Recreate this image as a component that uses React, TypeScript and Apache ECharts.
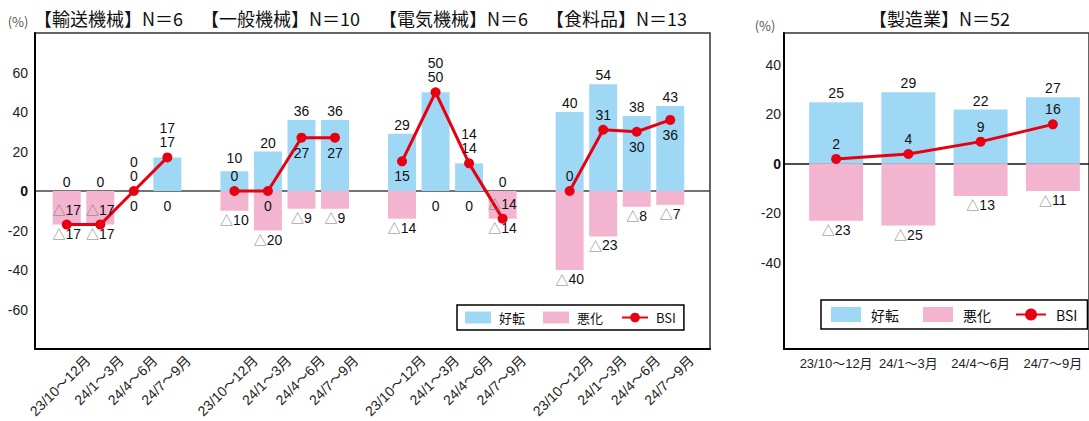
import { useEffect, useRef } from 'react';
import * as echarts from 'echarts';

// ---------------- data ----------------
const periods = ['23/10～12月', '24/1～3月', '24/4～6月', '24/7～9月'];
const industryNames = ['輸送機械', '一般機械', '電気機械', '食料品'];
const industryCounts = [6, 10, 6, 13];

const transportImprove = [0, 0, 0, 17];
const transportWorsen = [17, 17, 0, 0];
const transportBsi = [-17, -17, 0, 17];

const generalImprove = [10, 20, 36, 36];
const generalWorsen = [10, 20, 9, 9];
const generalBsi = [0, 0, 27, 27];

const electricImprove = [29, 50, 14, 0];
const electricWorsen = [14, 0, 0, 14];
const electricBsi = [15, 50, 14, -14];

const foodImprove = [40, 54, 38, 43];
const foodWorsen = [40, 23, 8, 7];
const foodBsi = [0, 31, 30, 36];

const mfgName = '製造業';
const mfgCount = 52;
const mfgImprove = [25, 29, 22, 27];
const mfgWorsen = [23, 25, 13, 11];
const mfgBsi = [2, 4, 9, 16];

const legendNames = ['好転', '悪化', 'BSI'];

// ---------------- style / layout ----------------
const bsiLabelSideLeft = [
  ['top', 'top', 'top', 'top'],
  ['top', 'bottom', 'bottom', 'bottom'],
  ['bottom', 'top', 'top', 'top'],
  ['top', 'top', 'bottom', 'bottom'],
];
const titleLeftX = [34, 201, 379, 546];
const mfgTitleX = 869;

const FONT_NUM = "'Liberation Sans Narrow', 'Liberation Sans', 'Noto Sans CJK JP', sans-serif";
const FONT_JP = "'Noto Sans CJK JP', sans-serif";
const BLUE = '#9fd8f5';
const PINK = '#f3b4d0';
const RED = '#e60012';
const CLEAR = 'rgba(0,0,0,0)';

const numLabel = { fontFamily: FONT_NUM, fontSize: 14, color: '#111' };
const rich = {
  tri: { color: '#7a7a7a', fontFamily: FONT_JP, fontSize: 13 },
  n: { ...numLabel },
};
const fmtSigned = (v: number) => (v < 0 ? `{tri|△}{n|${-v}}` : `${v}`);

function buildOption() {
  const groups = [
    { improve: transportImprove, worsen: transportWorsen, bsi: transportBsi },
    { improve: generalImprove, worsen: generalWorsen, bsi: generalBsi },
    { improve: electricImprove, worsen: electricWorsen, bsi: electricBsi },
    { improve: foodImprove, worsen: foodWorsen, bsi: foodBsi },
  ];
  const leftCats: string[] = [];
  const leftImprove: any[] = [];
  const leftWorsen: any[] = [];
  const leftBsi: any[] = [];
  groups.forEach((g, gi) => {
    if (gi > 0) {
      leftCats.push('');
      leftImprove.push('-');
      leftWorsen.push('-');
      leftBsi.push('-');
    }
    periods.forEach((p, i) => {
      leftCats.push(p);
      const side = bsiLabelSideLeft[gi][i];
      const gap = g.improve[i] - g.bsi[i];
      const lift = side === 'top' && gap >= 0 && gap <= 12 ? (gap === 0 ? 20 : 4) : 0;
      leftImprove.push(lift ? { value: g.improve[i], label: { offset: [0, -lift] } } : g.improve[i]);
      leftWorsen.push(g.worsen[i] === 0 ? { value: 0, label: { offset: [0, 6] } } : -g.worsen[i]);
      leftBsi.push({ value: g.bsi[i], label: { position: side } });
    });
  });

  const rightImprove = mfgImprove.slice();
  const rightWorsen = mfgWorsen.map((w) => -w);
  const rightBsi = mfgBsi.map((v) => ({ value: v, label: { position: 'top' } }));

  const improveLabel = {
    show: true,
    position: 'top',
    distance: 2,
    ...numLabel,
    formatter: (p: any) => `${p.value}`,
  };
  const worsenLabel = {
    show: true,
    position: 'bottom',
    distance: 2,
    ...numLabel,
    rich,
    formatter: (p: any) => {
      const w = Math.abs(p.value);
      return w ? `{tri|△}{n|${w}}` : '0';
    },
  };
  const bsiLabel = {
    show: true,
    distance: 3,
    ...numLabel,
    rich,
    formatter: (p: any) => fmtSigned(p.value),
  };

  const mkBars = (xi: number, width: number, imp: any[], wor: any[], bsi: any[]) => [
    {
      name: legendNames[0],
      type: 'bar',
      xAxisIndex: xi,
      yAxisIndex: xi,
      barWidth: width,
      barGap: '-100%',
      itemStyle: { color: BLUE },
      label: improveLabel,
      data: imp,
    },
    {
      name: legendNames[1],
      type: 'bar',
      xAxisIndex: xi,
      yAxisIndex: xi,
      barWidth: width,
      barGap: '-100%',
      itemStyle: { color: PINK },
      label: worsenLabel,
      data: wor,
    },
    {
      name: legendNames[2],
      type: 'line',
      xAxisIndex: xi,
      yAxisIndex: xi,
      z: 5,
      symbol: 'circle',
      symbolSize: 10,
      lineStyle: { color: RED, width: 3 },
      itemStyle: { color: RED },
      label: bsiLabel,
      data: bsi,
    },
  ];

  const zeroOnly = (n: number, idx: number, c: string) =>
    Array.from({ length: n }, (_, i) => (i === idx ? c : CLEAR));

  const frameX = (gi: number) => ({
    gridIndex: gi,
    type: 'category',
    data: [''],
    axisLine: { show: true, onZero: false, lineStyle: { color: '#000', width: 2 } },
    axisTick: { show: false },
    axisLabel: { show: false },
    splitLine: { show: false },
  });

  const yLabelFmt = (hide: number[]) => (v: number) =>
    hide.includes(v) ? '' : v === 0 ? '{b|0}' : `${v}`;
  const yLabelRich = { b: { fontFamily: FONT_NUM, fontSize: 14, fontWeight: 'bold', color: '#111' } };

  const legendCommon = {
    orient: 'horizontal',
    borderColor: '#000',
    borderWidth: 1.5,
    borderRadius: 0,
    selectedMode: false,
    data: [
      { name: legendNames[0], icon: 'rect' },
      { name: legendNames[1], icon: 'rect' },
      { name: legendNames[2] },
    ],
  };

  const titleTexts = industryNames.map((n, i) => `【${n}】N＝${industryCounts[i]}`);

  return {
    animation: false,
    backgroundColor: '#fff',
    grid: [
      { left: 35, top: 33, width: 675, height: 316, show: true, borderColor: '#333', borderWidth: 1.5 },
      { left: 50, top: 33, width: 637, height: 316 },
      { left: 71, top: 33, width: 637, height: 316 },
      { left: 784, top: 33, width: 310, height: 316, show: true, borderColor: '#333', borderWidth: 1.5 },
      { left: 800, top: 15.7, width: 289, height: 345.7 },
    ],
    xAxis: [
      frameX(0),
      {
        gridIndex: 1,
        type: 'category',
        data: leftCats,
        axisLine: { show: false },
        axisTick: { show: false },
        axisLabel: { show: false },
      },
      {
        gridIndex: 2,
        type: 'category',
        data: leftCats,
        axisLine: { show: false },
        axisTick: { show: false },
        axisLabel: {
          interval: 0,
          rotate: 45,
          margin: 9,
          fontSize: 14,
          color: '#222',
          fontFamily: FONT_NUM,
        },
      },
      frameX(3),
      {
        gridIndex: 4,
        type: 'category',
        data: periods,
        axisLine: { show: false },
        axisTick: { show: false },
        axisLabel: {
          interval: 0,
          margin: -4,
          fontSize: 13,
          color: '#222',
          fontFamily: FONT_NUM,
        },
      },
    ],
    yAxis: [
      {
        gridIndex: 0,
        type: 'value',
        min: -80,
        max: 80,
        interval: 20,
        axisLine: { show: true, lineStyle: { color: '#000', width: 2 } },
        axisTick: { show: false },
        axisLabel: {
          margin: 7,
          fontFamily: FONT_NUM,
          fontSize: 14,
          color: '#222',
          formatter: yLabelFmt([-80, 80]),
          rich: yLabelRich,
        },
        splitLine: { show: true, lineStyle: { color: zeroOnly(9, 4, '#444'), width: 1.5 } },
      },
      { gridIndex: 1, type: 'value', min: -80, max: 80, show: false },
      { gridIndex: 2, type: 'value', min: 0, max: 1, show: false },
      {
        gridIndex: 3,
        type: 'value',
        min: -75,
        max: 53,
        interval: 25,
        axisLine: { show: true, lineStyle: { color: '#000', width: 2 } },
        axisTick: { show: false },
        axisLabel: { show: false },
        splitLine: { show: true, lineStyle: { color: zeroOnly(7, 3, '#111'), width: 1.5 } },
      },
      {
        gridIndex: 4,
        type: 'value',
        min: -80,
        max: 60,
        interval: 20,
        axisLine: { show: false },
        axisTick: { show: false },
        splitLine: { show: false },
        axisLabel: {
          margin: 19,
          fontFamily: FONT_NUM,
          fontSize: 14,
          color: '#222',
          formatter: yLabelFmt([-80, -60, 60]),
          rich: yLabelRich,
        },
      },
    ],
    legend: [
      {
        ...legendCommon,
        left: 457,
        top: 305,
        padding: [6, 8, 6, 8],
        itemWidth: 26,
        itemHeight: 12,
        itemGap: 18,
        textStyle: { fontSize: 13, color: '#111', fontFamily: FONT_JP, padding: [0, 0, 0, 3] },
      },
      {
        ...legendCommon,
        left: 821,
        top: 300,
        padding: [7, 10, 7, 10],
        itemWidth: 30,
        itemHeight: 15,
        itemGap: 24,
        textStyle: { fontSize: 14, color: '#111', fontFamily: FONT_JP, padding: [0, 0, 0, 5] },
      },
    ],
    graphic: [
      ...titleTexts.map((t, i) => ({
        type: 'text',
        x: titleLeftX[i],
        y: 18,
        style: { text: t, fontFamily: FONT_JP, fontSize: 18, fill: '#111', align: 'left', verticalAlign: 'middle' },
      })),
      {
        type: 'text',
        x: mfgTitleX,
        y: 18,
        style: { text: `【${mfgName}】N＝${mfgCount}`, fontFamily: FONT_JP, fontSize: 18, fill: '#111', align: 'left', verticalAlign: 'middle' },
      },
      {
        type: 'text',
        x: 18,
        y: 21,
        style: { text: '(%)', fontFamily: FONT_JP, fontSize: 13, fill: '#555', align: 'center', verticalAlign: 'middle' },
      },
      {
        type: 'text',
        x: 765,
        y: 25,
        style: { text: '(%)', fontFamily: FONT_JP, fontSize: 13, fill: '#555', align: 'center', verticalAlign: 'middle' },
      },
    ],
    series: [...mkBars(1, 28, leftImprove, leftWorsen, leftBsi), ...mkBars(4, 54, rightImprove, rightWorsen, rightBsi)],
  };
}

export default function App() {
  const ref = useRef<HTMLDivElement>(null);
  useEffect(() => {
    document.body.style.margin = '0';
    const chart = echarts.init(ref.current as HTMLDivElement, null, { renderer: 'svg' });
    chart.setOption(buildOption() as any);
    return () => chart.dispose();
  }, []);
  return <div ref={ref} style={{ width: 1089, height: 421 }} />;
}
